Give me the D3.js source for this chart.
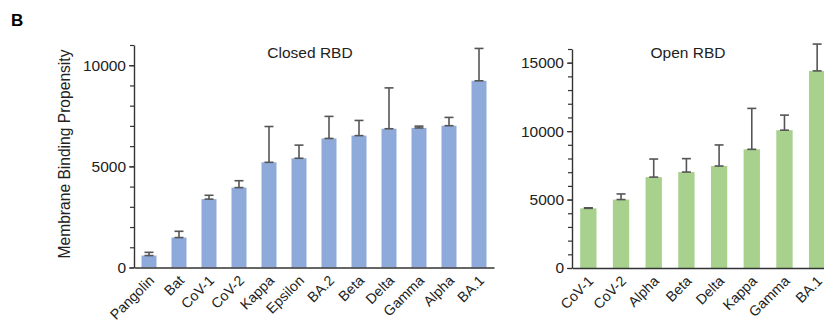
<!DOCTYPE html>
<html>
<head>
<meta charset="utf-8">
<script src="https://cdn.jsdelivr.net/npm/d3@7"></script>
<style>
  body { margin: 0; background: #fff; }
  svg { font-family: "Liberation Sans", Arial, sans-serif; }
</style>
</head>
<body>
<div id="chart"></div>
<script>
// closed RBD data
let closedNames = ["Pangolin", "Bat", "CoV-1", "CoV-2", "Kappa", "Epsilon", "BA.2", "Beta", "Delta", "Gamma", "Alpha", "BA.1"];
let closedMeans = [590, 1480, 3380, 3950, 5200, 5400, 6380, 6520, 6860, 6900, 7010, 9230];
let closedErr   = [160, 310, 190, 340, 1770, 650, 1090, 750, 2020, 90, 410, 1600];

// open RBD data
let openNames = ["CoV-1", "CoV-2", "Alpha", "Beta", "Delta", "Kappa", "Gamma", "BA.1"];
let openMeans = [4360, 5000, 6640, 7010, 7450, 8670, 10070, 14400];
let openErr   = [40, 410, 1320, 980, 1540, 2990, 1100, 1960];

let closedTicks = [0, 5000, 10000];
let openTicks = [0, 5000, 10000, 15000];

let svg = d3.select("#chart")
  .append("svg")
    .attr("width", 824)
    .attr("height", 324);

// panel letter
svg.append("text")
  .attr("x", 11)
  .attr("y", 26)
  .attr("font-size", 17)
  .attr("font-weight", "bold")
  .text("B");

// y axis title
svg.append("text")
  .attr("transform", "translate(70,154) rotate(-90)")
  .attr("text-anchor", "middle")
  .attr("font-size", 15.6)
  .attr("fill", "#222")
  .text("Membrane Binding Propensity");

function drawPanel (opts) {
  let g = svg.append("g");

  let x = d3.scaleBand()
      .domain(opts.names)
      .range([opts.left, opts.right])
      .paddingInner(0.5)
      .paddingOuter(0.25);

  let y = d3.scaleLinear()
      .domain([0, opts.max])
      .range([opts.bottom, opts.top]);

  // bars
  g.selectAll("rect.bar")
    .data(opts.names)
    .enter().append("rect")
      .attr("class", "bar")
      .attr("x", function(d) { return x(d); })
      .attr("y", function(d, i) { return y(opts.means[i]); })
      .attr("width", x.bandwidth())
      .attr("height", function(d, i) { return opts.bottom - y(opts.means[i]); })
      .attr("fill", opts.color);

  // error bars (upper half only)
  let eb = g.selectAll("g.err")
    .data(opts.names)
    .enter().append("g")
      .attr("class", "err")
      .attr("stroke", "#555")
      .attr("stroke-width", 1.6);
  eb.append("line")
    .attr("x1", function(d) { return x(d) + x.bandwidth() / 2; })
    .attr("x2", function(d) { return x(d) + x.bandwidth() / 2; })
    .attr("y1", function(d, i) { return y(opts.means[i]); })
    .attr("y2", function(d, i) { return y(opts.means[i] + opts.err[i]); });
  eb.append("line")
    .attr("x1", function(d) { return x(d) + x.bandwidth() / 2 - 4.5; })
    .attr("x2", function(d) { return x(d) + x.bandwidth() / 2 + 4.5; })
    .attr("y1", function(d, i) { return y(opts.means[i] + opts.err[i]); })
    .attr("y2", function(d, i) { return y(opts.means[i] + opts.err[i]); });
  eb.append("line")
    .attr("x1", function(d) { return x(d) + x.bandwidth() / 2 - 4.5; })
    .attr("x2", function(d) { return x(d) + x.bandwidth() / 2 + 4.5; })
    .attr("y1", function(d, i) { return y(opts.means[i]); })
    .attr("y2", function(d, i) { return y(opts.means[i]); });

  // minor ticks
  g.append("g")
    .attr("transform", "translate(" + opts.left + ",0)")
    .call(d3.axisLeft(y).ticks(opts.max / 1000).tickSize(4).tickFormat(""))
    .call(function(a) { a.select(".domain").remove(); })
    .selectAll("line").attr("stroke", "#333").attr("stroke-width", 1.2);

  // major axis
  let ya = g.append("g")
    .attr("transform", "translate(" + opts.left + ",0)")
    .call(d3.axisLeft(y).tickValues(opts.ticks).tickSize(5).tickSizeOuter(0).tickPadding(3).tickFormat(d3.format("d")));
  ya.select(".domain").attr("stroke", "#333").attr("stroke-width", 1.4);
  ya.selectAll("line").attr("stroke", "#333").attr("stroke-width", 1.2);
  ya.selectAll("text").attr("font-size", 15.5).attr("fill", "#222");

  // x axis
  let xa = g.append("g")
    .attr("transform", "translate(0," + opts.bottom + ")")
    .call(d3.axisBottom(x).tickSize(0).tickSizeOuter(0).tickPadding(0));
  xa.select(".domain").attr("stroke", "#333").attr("stroke-width", 1.4);
  xa.selectAll("text")
    .attr("font-size", 14.2)
    .attr("fill", "#222")
    .attr("text-anchor", "end")
    .attr("dy", 0)
    .attr("transform", "translate(6,14) rotate(-45)");

  // panel title
  g.append("text")
    .attr("x", opts.titleX)
    .attr("y", 58)
    .attr("text-anchor", "middle")
    .attr("font-size", 15.5)
    .attr("fill", "#222")
    .text(opts.title);
}

drawPanel({
  names: closedNames, means: closedMeans, err: closedErr, ticks: closedTicks,
  max: 11000, left: 134, right: 494, top: 45, bottom: 267.5,
  color: "#8eaadb", title: "Closed RBD", titleX: 310
});

drawPanel({
  names: openNames, means: openMeans, err: openErr, ticks: openTicks,
  max: 16000, left: 572, right: 833.5, top: 49, bottom: 268,
  color: "#a9d18e", title: "Open RBD", titleX: 688
});
</script>
</body>
</html>
